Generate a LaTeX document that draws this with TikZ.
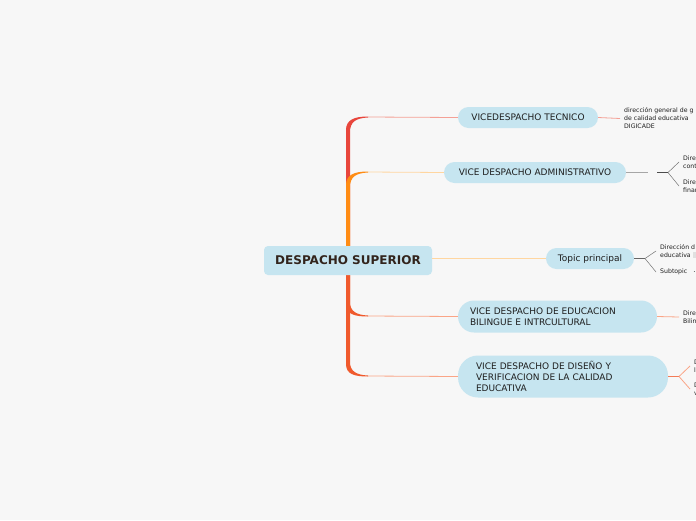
\documentclass[tikz,border=0pt]{standalone}
\usepackage{fontspec}
\setmainfont{DejaVu Sans}
\definecolor{bg}{RGB}{247,247,247}
\definecolor{nodefill}{RGB}{198,229,240}
\definecolor{redb}{RGB}{232,70,60}
\definecolor{orangeb}{RGB}{255,140,20}
\definecolor{redorb}{RGB}{240,90,45}
\definecolor{pinkl}{RGB}{244,160,150}
\definecolor{paleor}{RGB}{255,214,160}
\definecolor{salmonl}{RGB}{250,165,135}
\definecolor{txt}{RGB}{30,30,30}
\definecolor{maintxt}{RGB}{50,36,28}
\begin{document}
\begin{tikzpicture}[x=1pt,y=-1pt,
  pill/.style={fill=nodefill, draw=none, text=txt, font=\fontsize{9}{11}\selectfont, inner ysep=0pt, text height=6.6pt, text depth=0pt, minimum height=21pt, rounded corners=10.5pt},
  multi/.style={fill=nodefill, draw=none, text=txt, font=\fontsize{9}{11}\selectfont, align=left, inner ysep=0pt},
  leaf/.style={anchor=west, inner xsep=4pt, inner ysep=0pt, align=left, text=txt, font=\fontsize{6.2}{8}\selectfont},
  thinline/.style={line width=0.8pt}
]
\useasboundingbox (0,0) rectangle (696,520);
\fill[bg] (0,0) rectangle (696,520);
\clip (0,0) rectangle (696,520);

% trunk (tapered branches)
\fill[redb] (346,250) -- (346,130) .. controls (346,120) and (354,116.5) .. (368,116.5) -- (368,117.5) .. controls (356,118) and (350,122) .. (350,132) -- (350,250) -- cycle;
\fill[orangeb] (346,250) -- (346,185) .. controls (346,175) and (354,171.5) .. (368,171.5) -- (368,172.5) .. controls (356,173) and (350,177) .. (350,187) -- (350,250) -- cycle;
\fill[redorb] (346,270) -- (346,364) .. controls (346,374) and (354,376.5) .. (368,376.5) -- (368,375.5) .. controls (356,375) and (350,371) .. (350,362) -- (350,270) -- cycle;
\fill[redorb] (346,270) -- (346,304) .. controls (346,314) and (354,316.5) .. (368,316.5) -- (368,315.5) .. controls (356,315) and (350,311) .. (350,302) -- (350,270) -- cycle;

\coordinate (j1) at (368,117);
\coordinate (j2) at (368,172);
\coordinate (j4) at (368,316);
\coordinate (j5) at (368,376);

% main node
\node[fill=nodefill, rounded corners=4pt, minimum width=168pt, minimum height=29pt, inner sep=0pt, text height=8.7pt, text depth=0pt, text=maintxt, font=\fontsize{12}{14}\bfseries] (main) at (348,260.5) {DESPACHO SUPERIOR};

% first level nodes
\node[pill, minimum width=140pt] (n1) at (528,117.5) {VICEDESPACHO TECNICO};
\node[pill, minimum width=182pt] (n2) at (535,172.5) {VICE DESPACHO ADMINISTRATIVO};
\node[pill, minimum width=88pt] (tp) at (590,258.5) {Topic principal};
\node[multi, inner xsep=12pt, text width=175pt, minimum height=32pt, rounded corners=16pt] (n4) at (557.5,316.5) {VICE DESPACHO DE EDUCACION\\BILINGUE E INTRCULTURAL};
\node[multi, inner xsep=18pt, text width=174pt, minimum height=42pt, rounded corners=20pt] (n5) at (563,376.5) {VICE DESPACHO DE DISEÑO Y\\VERIFICACION DE LA CALIDAD\\EDUCATIVA};

% branch lines
\draw[pinkl, thinline] (j1) -- (n1.west);
\draw[paleor, thinline] (j2) -- (n2.west);
\draw[paleor, line width=1pt] (main.east |- tp.west) -- (tp.west);
\draw[salmonl, thinline] (j4) -- (n4.west);
\draw[salmonl, thinline] (j5) -- (n5.west);

% leaves
\node[leaf] (c1) at (620,118.5) {dirección general de g\\de calidad educativa\\DIGICADE};
\draw[pinkl, thinline] (n1.east) -- (c1.west);

\node[leaf] (c21) at (679,162) {Dire\\cont};
\node[leaf] (c22) at (679,186) {Dire\\finan};
\coordinate (g2a) at (648,172.5);
\coordinate (g2b) at (657,172.5);
\coordinate (f2) at (668,172.5);
\draw[gray!70, line width=1pt] (n2.east) -- (g2a);
\draw[black!70, line width=1pt] (g2b) -- (f2);
\draw[black!55, line width=0.5pt] (f2) -- (c21.west);
\draw[black!55, line width=0.5pt] (f2) -- (c22.west);

\node[leaf] (ct1) at (656,251) {Dirección d\\educativa};
\node[leaf] (ct2) at (656,272) {Subtopic};
\coordinate (ft) at (645,258.5);
\draw[black!60, line width=1.6pt] (tp.east) -- (ft);
\draw[black!55, line width=0.5pt] (ft) -- (ct1.west);
\draw[black!55, line width=0.5pt] (ft) -- (ct2.west);
\coordinate (st) at (694,271);
\draw[black!55, line width=0.5pt] ([xshift=2pt]ct2.east |- st) -- (st);
\fill[black!12] (693,252) rectangle (697,258);

\node[leaf] (c4) at (679,317) {Dire\\Bilin};
\draw[salmonl, thinline] (n4.east) -- (c4.west);

\node[leaf] (c51) at (690,366) {D\\li};
\node[leaf] (c52) at (690,389) {D\\v};
\coordinate (f5) at (679,376.5);
\draw[redorb!80, line width=1pt] (n5.east) -- (f5);
\draw[salmonl, thinline] (f5) -- (c51.west);
\draw[salmonl, thinline] (f5) -- (c52.west);
\end{tikzpicture}
\end{document}
